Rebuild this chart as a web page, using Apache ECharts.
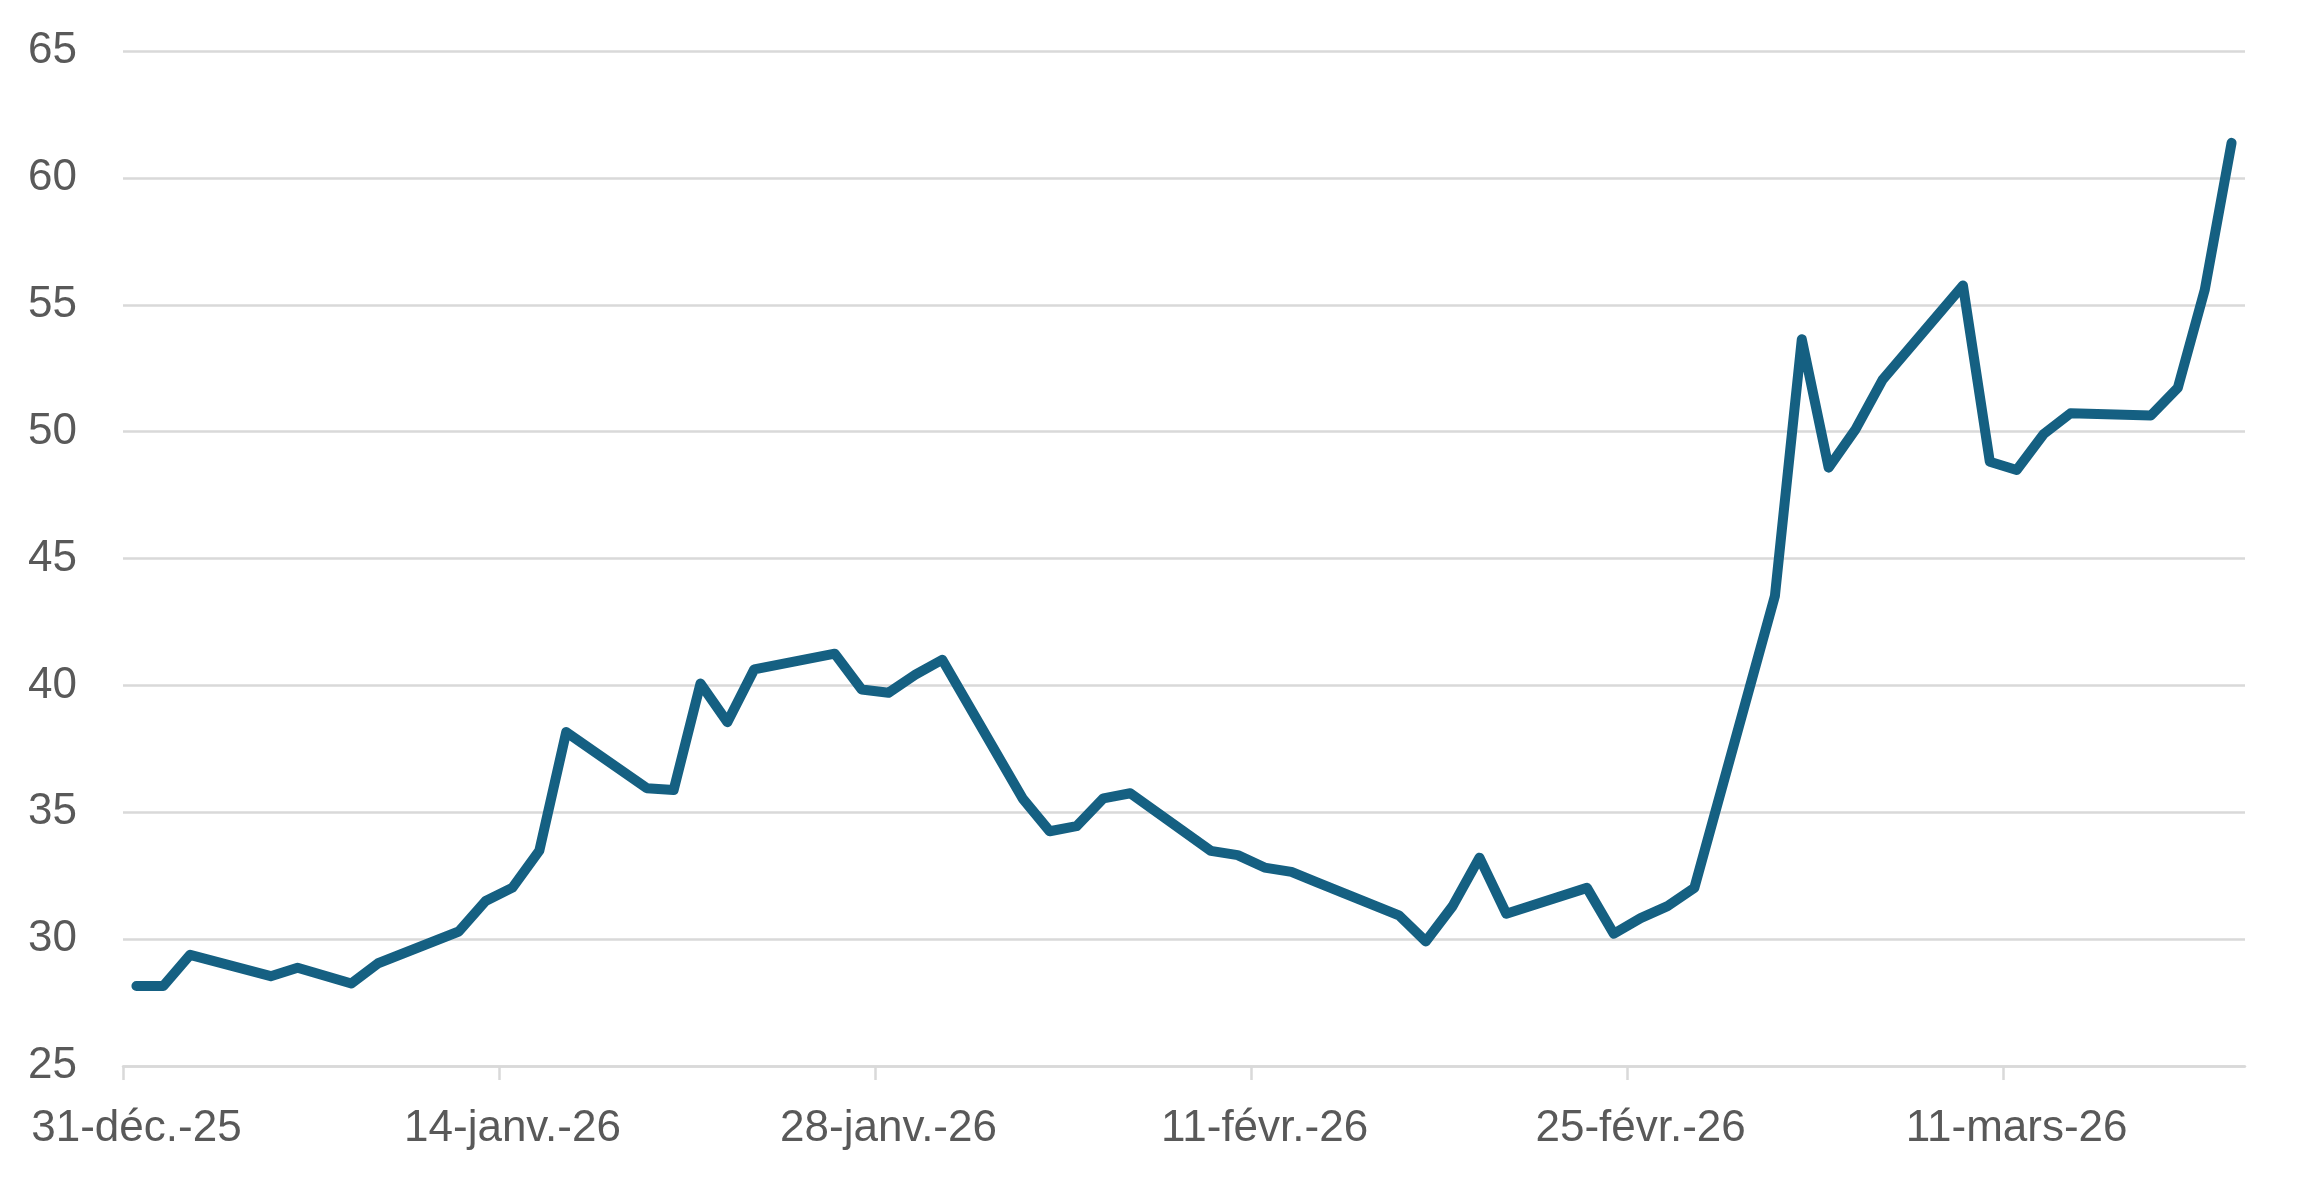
<!DOCTYPE html>
<html><head><meta charset="utf-8">
<script src="https://cdn.jsdelivr.net/npm/echarts@6/dist/echarts.min.js"></script>
<style>html,body{margin:0;padding:0;background:#fff}#c{width:2297px;height:1186px}</style>
</head><body><div id="c"></div>
<script>
const dates = [
  '2025-12-31','2026-01-01','2026-01-02','2026-01-05','2026-01-06','2026-01-08','2026-01-09',
  '2026-01-12','2026-01-13','2026-01-14','2026-01-15','2026-01-16',
  '2026-01-19','2026-01-20','2026-01-21','2026-01-22','2026-01-23',
  '2026-01-26','2026-01-27','2026-01-28','2026-01-29','2026-01-30',
  '2026-02-02','2026-02-03','2026-02-04','2026-02-05','2026-02-06',
  '2026-02-09','2026-02-10','2026-02-11','2026-02-12','2026-02-13',
  '2026-02-16','2026-02-17','2026-02-18','2026-02-19','2026-02-20',
  '2026-02-23','2026-02-24','2026-02-25','2026-02-26','2026-02-27',
  '2026-03-02','2026-03-03','2026-03-04','2026-03-05','2026-03-06',
  '2026-03-09','2026-03-10','2026-03-11','2026-03-12','2026-03-13',
  '2026-03-16','2026-03-17','2026-03-18','2026-03-19'
];
const values = [
  28.15, 28.15, 29.38, 28.54, 28.87, 28.25, 29.05,
  30.30, 31.50, 32.03, 33.49, 38.16,
  35.95, 35.88, 40.07, 38.55, 40.63,
  41.25, 39.84, 39.71, 40.42, 41.01,
  35.53, 34.25, 34.45, 35.55, 35.75,
  33.48, 33.31, 32.82, 32.65, 32.22,
  30.94, 29.91, 31.30, 33.21, 31.00,
  32.02, 30.21, 30.83, 31.30, 32.02,
  43.53, 53.64, 48.58, 50.09, 52.03,
  55.76, 48.81, 48.49, 49.90, 50.72,
  50.64, 51.73, 55.58, 61.38
];
const tickLabels = ['31-déc.-25','14-janv.-26','28-janv.-26','11-févr.-26','25-févr.-26','11-mars-26'];
const tickDates = ['2025-12-31','2026-01-14','2026-01-28','2026-02-11','2026-02-25','2026-03-11'];
const axisStartDate = '2025-12-31';
const axisDays = 79;
const yMin = 25, yMax = 65, yStep = 5;

function dayOf(s) {
  const p = s.split('-').map(Number);
  const a = axisStartDate.split('-').map(Number);
  return Math.round((Date.UTC(p[0], p[1]-1, p[2]) - Date.UTC(a[0], a[1]-1, a[2])) / 86400000);
}
const tickPos = tickDates.map(dayOf);
const labelPos = tickPos.map(d => d + 0.5);
const seriesData = dates.map((d, i) => [dayOf(d) + 0.5, values[i]]);

const FONT = '"Liberation Sans", Arial, sans-serif';
const chart = echarts.init(document.getElementById('c'), null, {renderer: 'canvas'});
chart.setOption({
  animation: false,
  backgroundColor: '#ffffff',
  grid: {left: 123, right: 52, top: 51, bottom: 120, containLabel: false},
  xAxis: {
    type: 'value', min: 0, max: axisDays,
    axisLine: {show: true, onZero: false, lineStyle: {color: '#d9d9d9', width: 2.5}},
    axisTick: {show: true, customValues: tickPos, length: 14, lineStyle: {color: '#d9d9d9', width: 2.5}},
    axisLabel: {
      show: true, customValues: labelPos, margin: 41,
      fontFamily: FONT, fontSize: 44, color: '#595959',
      formatter: function (v) {
        const i = labelPos.findIndex(p => Math.abs(p - v) < 1e-6);
        return i >= 0 ? tickLabels[i] : '';
      }
    },
    splitLine: {show: false}
  },
  yAxis: {
    type: 'value', min: yMin, max: yMax, interval: yStep,
    axisLine: {show: false}, axisTick: {show: false},
    axisLabel: {fontFamily: FONT, fontSize: 44, color: '#595959', margin: 46},
    splitLine: {show: true, lineStyle: {color: '#d9d9d9', width: 2.5}}
  },
  series: [{
    type: 'line', data: seriesData, symbol: 'none', showSymbol: false,
    lineStyle: {color: '#156082', width: 10, cap: 'round', join: 'round'},
    itemStyle: {color: '#156082'}
  }]
});
</script>
</body></html>
